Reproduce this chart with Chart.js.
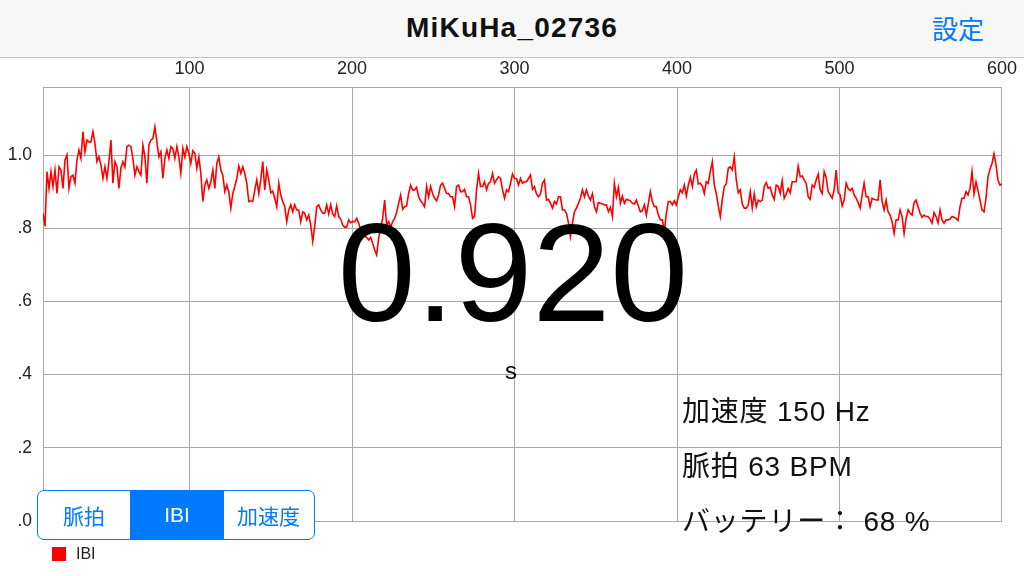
<!DOCTYPE html>
<html><head><meta charset="utf-8">
<script src="https://cdn.jsdelivr.net/npm/chart.js@4.4.1/dist/chart.umd.min.js"></script>
<style>
html,body{margin:0;padding:0;width:1024px;height:576px;overflow:hidden;background:#fff;font-family:"Liberation Sans",Arial,sans-serif;}
#hdr{position:absolute;left:0;top:0;width:1024px;height:58px;background:#f7f7f7;border-bottom:1px solid #c8c8c8;box-sizing:border-box;}
#title{position:absolute;left:0;top:0;width:1024px;height:56px;line-height:56px;text-align:center;font-weight:bold;font-size:28px;letter-spacing:1.2px;color:#111;}
#set{position:absolute;left:932px;top:0;height:56px;line-height:56px;font-size:26px;color:#007aff;font-family:"Noto Sans CJK JP",sans-serif;}
#wrap{position:absolute;left:0;top:57px;width:1024px;height:519px;}
#big{position:absolute;left:0;width:1026px;top:203px;font-size:140px;line-height:140px;text-align:center;color:#000;}
#unit{position:absolute;left:0;width:1022px;top:359px;font-size:24px;line-height:24px;text-align:center;color:#000;}
#info{position:absolute;left:682px;top:384px;font-size:28px;line-height:55px;letter-spacing:0.8px;color:#111;font-family:"Liberation Sans","Noto Sans CJK JP",sans-serif;white-space:pre;}
#seg{position:absolute;left:37px;top:490px;width:278px;height:50px;border:1.5px solid #007aff;border-radius:7px;box-sizing:border-box;display:flex;overflow:hidden;background:#fff;}
#seg div{flex:none;height:100%;display:flex;align-items:center;justify-content:center;font-size:21px;color:#007aff;font-family:"Liberation Sans","Noto Sans CJK JP",sans-serif;}
#seg div.on{background:#007aff;color:#fff;}
#legend{position:absolute;left:52px;top:545px;height:18px;display:flex;align-items:center;font-size:16px;color:#222;}
#legend span.box{display:inline-block;width:14px;height:14px;margin-right:10px;}
</style></head>
<body>
<div id="hdr"><div id="title"></div><div id="set"></div></div>
<div id="wrap"><canvas id="c" width="1024" height="519"></canvas></div>
<div id="big"></div>
<div id="unit"></div>
<div id="info"></div>
<div id="seg"></div>
<div id="legend"></div>
<script>
// ---- data ----
const TITLE = "MiKuHa_02736";
const SETTINGS_LABEL = "設定";
const CURRENT_VALUE = "0.920";
const UNIT = "s";
const INFO_LINES = ["加速度 150 Hz", "脈拍 63 BPM", "バッテリー： 68 %"];
const SEGMENTS = ["脈拍", "IBI", "加速度"];
const SEGMENT_SELECTED = 1;
const SERIES_LABEL = "IBI";
const SERIES_COLOR = "#ff0000";

const X_START = 9.8;
const X_END = 600;
const X_TICKS = [100, 200, 300, 400, 500, 600];
const Y_MAX = 1.186;
const Y_TICKS = [0, 0.2, 0.4, 0.6, 0.8, 1.0];
const Y_TICK_LABELS = [".0", ".2", ".4", ".6", ".8", "1.0"];

const IBI_VALUES = [
0.841,0.805,0.955,0.909,0.955,0.914,0.959,0.895,0.968,0.959,
0.909,0.986,1.000,0.909,0.941,0.945,0.923,0.986,1.014,0.991,
1.064,1.009,1.041,1.036,1.036,1.064,1.032,0.982,0.995,0.973,
0.936,0.968,0.936,0.982,1.041,0.923,0.982,0.968,0.909,0.964,
0.982,0.968,1.023,1.027,1.023,0.991,0.945,0.968,0.955,0.945,
1.027,0.995,0.923,1.027,1.041,1.045,1.077,1.036,0.995,1.009,
0.936,0.991,1.014,0.991,1.023,1.018,0.991,1.023,0.995,
0.950,1.018,0.995,1.023,1.005,0.977,1.012,1.005,0.964,0.995,
0.950,0.873,0.918,0.932,0.909,0.927,0.959,0.909,0.977,0.995,
0.959,0.945,0.900,0.918,0.900,0.855,0.895,0.914,0.936,0.970,
0.950,0.968,0.950,0.923,0.873,0.875,0.873,0.905,0.932,0.895,
0.932,0.982,0.905,0.959,0.932,0.897,0.902,0.882,0.859,0.923,
0.891,0.873,0.859,0.818,0.850,0.864,0.845,0.864,0.850,0.850,
0.818,0.845,0.841,0.823,0.836,0.809,0.764,0.805,0.859,
0.864,0.850,0.841,0.841,0.864,0.839,0.864,0.839,0.832,0.861,
0.832,0.825,0.809,0.803,0.803,0.823,0.815,0.818,0.818,0.827,
0.814,0.795,0.786,0.779,0.775,0.768,0.775,0.759,0.741,0.727,
0.773,0.800,0.827,0.877,0.809,0.818,0.803,0.818,0.827,0.843,
0.868,0.891,0.852,0.859,0.861,0.895,0.918,0.905,0.905,0.912,
0.886,0.875,0.868,0.859,0.914,0.886,0.914,0.895,0.882,0.875,
0.891,0.918,0.923,0.909,0.895,0.895,0.886,0.886,0.859,
0.914,0.918,0.900,0.900,0.906,0.886,0.886,0.864,0.827,0.832,
0.905,0.950,0.914,0.914,0.927,0.905,0.923,0.927,0.950,0.923,
0.932,0.941,0.936,0.905,0.882,0.905,0.900,0.923,0.948,0.936,
0.936,0.918,0.936,0.923,0.927,0.927,0.936,0.945,0.906,0.914,
0.894,0.886,0.894,0.923,0.932,0.877,0.879,0.868,0.855,0.873,
0.866,0.886,0.886,0.850,0.850,0.841,0.815,0.777,0.814,0.845,
0.855,0.868,0.882,0.905,0.886,0.905,0.888,0.877,0.894,
0.859,0.845,0.870,0.868,0.866,0.864,0.864,0.845,0.857,0.832,
0.923,0.886,0.912,0.868,0.888,0.868,0.879,0.877,0.875,0.868,
0.866,0.877,0.861,0.845,0.848,0.864,0.836,0.868,0.900,0.873,
0.859,0.859,0.836,0.823,0.823,0.791,0.841,0.873,0.873,0.864,
0.875,0.864,0.886,0.905,0.897,0.918,0.888,0.918,0.939,0.914,
0.948,0.959,0.921,0.923,0.915,0.895,0.927,0.923,0.955,0.982,
0.918,0.895,0.861,0.832,0.879,0.914,0.921,0.964,0.968,
0.959,0.995,0.932,0.897,0.905,0.866,0.855,0.855,0.864,0.900,
0.855,0.894,0.859,0.877,0.873,0.877,0.914,0.925,0.909,0.912,
0.891,0.879,0.918,0.915,0.895,0.930,0.882,0.894,0.909,0.897,
0.927,0.927,0.927,0.970,0.941,0.943,0.932,0.923,0.886,0.879,
0.918,0.912,0.932,0.948,0.905,0.895,0.955,0.939,0.900,0.891,
0.882,0.905,0.959,0.897,0.891,0.861,0.877,0.923,0.909,0.903,
0.909,0.891,0.882,0.870,0.855,0.891,0.923,0.886,0.886,
0.859,0.882,0.879,0.877,0.877,0.932,0.873,0.850,0.877,0.845,
0.836,0.818,0.786,0.823,0.823,0.850,0.832,0.786,0.827,0.850,
0.841,0.836,0.870,0.877,0.859,0.841,0.830,0.836,0.832,0.832,
0.825,0.814,0.843,0.832,0.815,0.850,0.823,0.814,0.823,0.823,
0.825,0.832,0.830,0.827,0.821,0.859,0.882,0.882,0.900,0.891,
0.909,0.955,0.894,0.927,0.903,0.877,0.850,0.845,0.882,0.941,
0.961,0.977,1.003,0.973,0.932,0.918,0.921
];

// ---- overlays (real text) ----
document.getElementById('title').textContent = TITLE;
document.getElementById('set').textContent = SETTINGS_LABEL;
document.getElementById('big').textContent = CURRENT_VALUE;
document.getElementById('unit').textContent = UNIT;
document.getElementById('info').textContent = INFO_LINES.join("\n");
const seg = document.getElementById('seg');
const segW = [92, 94, 89];
SEGMENTS.forEach((s, i) => {
  const d = document.createElement('div');
  d.textContent = s;
  d.style.width = segW[i] + 'px';
  if (i === SEGMENT_SELECTED) d.className = 'on';
  seg.appendChild(d);
});
const lg = document.getElementById('legend');
const bx = document.createElement('span'); bx.className = 'box'; bx.style.background = SERIES_COLOR;
const lt = document.createElement('span'); lt.textContent = SERIES_LABEL;
lg.appendChild(bx); lg.appendChild(lt);

// ---- chart ----
const step = (X_END - X_START) / (IBI_VALUES.length - 1);
const points = IBI_VALUES.map((v, i) => ({ x: X_START + i * step, y: v }));
const GRID = '#a8a8a8';
new Chart(document.getElementById('c').getContext('2d'), {
  type: 'line',
  data: { datasets: [{ label: SERIES_LABEL, data: points, borderColor: SERIES_COLOR, borderWidth: 1.6, pointRadius: 0, tension: 0, fill: false }] },
  options: {
    responsive: false, animation: false, devicePixelRatio: 1,
    layout: { padding: { left: 0, right: 20, top: 0, bottom: 55 } },
    plugins: { legend: { display: false }, tooltip: { enabled: false } },
    scales: {
      x: {
        type: 'linear', position: 'top', min: X_START, max: X_END,
        afterBuildTicks: s => { s.ticks = X_TICKS.map(v => ({ value: v })); },
        afterFit: s => { s.height = 30; },
        grid: { color: GRID, lineWidth: 1, drawTicks: false },
        border: { color: GRID, width: 1 },
        ticks: { padding: 7, color: '#222', font: { size: 18, family: 'Liberation Sans' }, maxRotation: 0, autoSkip: false }
      },
      y: {
        type: 'linear', min: 0, max: Y_MAX,
        afterBuildTicks: s => { s.ticks = Y_TICKS.map(v => ({ value: v })); },
        afterFit: s => { s.width = 43; },
        grid: { color: GRID, lineWidth: 1, drawTicks: false },
        border: { color: GRID, width: 1 },
        ticks: { padding: 11, color: '#222', font: { size: 17.5, family: 'Liberation Sans' },
          callback: v => { const k = Y_TICKS.findIndex(t => Math.abs(t - v) < 1e-9); return k >= 0 ? Y_TICK_LABELS[k] : ''; } }
      }
    }
  }
});
</script>
</body></html>
